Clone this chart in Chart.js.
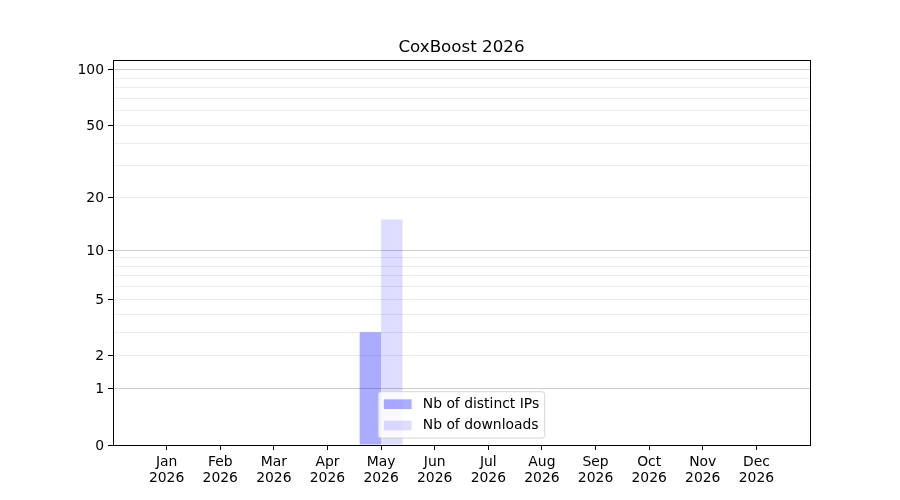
<!DOCTYPE html>
<html>
<head>
<meta charset="utf-8">
<script src="https://cdn.jsdelivr.net/npm/chart.js@4/dist/chart.umd.min.js"></script>
<style>
  html, body { margin: 0; padding: 0; background: #fff; }
  #wrap { width: 900px; height: 500px; position: relative; }
</style>
</head>
<body>
<div id="wrap"><canvas id="c" width="900" height="500"></canvas></div>
<script>
// ---- data ----
const chartTitle = 'CoxBoost 2026';
const months = ['Jan', 'Feb', 'Mar', 'Apr', 'May', 'Jun', 'Jul', 'Aug', 'Sep', 'Oct', 'Nov', 'Dec'];
const year = '2026';
const distinctIPs = [0, 0, 0, 0, 3, 0, 0, 0, 0, 0, 0, 0];
const downloads = [0, 0, 0, 0, 15, 0, 0, 0, 0, 0, 0, 0];
const seriesNames = ['Nb of distinct IPs', 'Nb of downloads'];
const yTickLabels = [0, 1, 2, 5, 10, 20, 50, 100];
const yMajorGrid = [1, 10, 100];
const yMinorGrid = [2, 3, 4, 5, 6, 7, 8, 9, 20, 30, 40, 50, 60, 70, 80, 90];
const yMax = 113;

// ---- custom symlog-like scale: log10(1 + y) ----
class Log1pScale extends Chart.Scale {
  determineDataLimits() {
    const { min, max } = this.getMinMax(true);
    this.min = Number.isFinite(this.options.min) ? this.options.min : Math.min(0, min);
    this.max = Number.isFinite(this.options.max) ? this.options.max : max;
  }
  buildTicks() {
    const vals = Array.from(new Set([0, ...yTickLabels, ...yMajorGrid, ...yMinorGrid])).sort((a, b) => a - b);
    return vals.filter(v => v >= this.min && v <= this.max).map(v => ({ value: v }));
  }
  configure() {
    super.configure();
    this._s = Math.log10(1 + this.min);
    this._e = Math.log10(1 + this.max);
  }
  getLabelForValue(v) { return String(v); }
  getPixelForValue(v) {
    if (v === null || v === undefined || isNaN(v)) return NaN;
    return this.getPixelForDecimal((Math.log10(1 + v) - this._s) / (this._e - this._s));
  }
  getValueForPixel(p) {
    const d = this.getDecimalForPixel(p);
    return Math.pow(10, this._s + d * (this._e - this._s)) - 1;
  }
}
Log1pScale.id = 'log1p';
Log1pScale.defaults = {};
Chart.register(Log1pScale);

const FONT = 'DejaVu Sans';
const colIP = 'rgba(0,0,255,0.33)';
const colDL = 'rgba(0,0,255,0.135)';

const xLabels = ['', ...months.map(m => [m, year]), ''];
const pad = arr => [null, ...arr, null];

// frame box + title plugin
const framePlugin = {
  id: 'frame',
  afterDatasetsDraw(chart) {
    const { ctx, chartArea: a } = chart;
    ctx.save();
    ctx.strokeStyle = '#000';
    ctx.lineWidth = 1;
    ctx.strokeRect(Math.round(a.left) + 0.5, Math.round(a.top) + 0.5, Math.round(a.right - a.left), Math.round(a.bottom - a.top));
    ctx.fillStyle = '#000';
    ctx.font = '16.7px "' + FONT + '"';
    ctx.textAlign = 'center';
    ctx.textBaseline = 'alphabetic';
    ctx.fillText(chartTitle, (a.left + a.right) / 2, a.top - 8.3);
    ctx.restore();
  }
};

// legend plugin (inside plot, lower center)
const legendPlugin = {
  id: 'innerLegend',
  afterDatasetsDraw(chart) {
    const { ctx, chartArea: a } = chart;
    const fs = 13.9;
    const padIn = 0.4 * fs, handleLen = 2.0 * fs, handleH = 0.7 * fs, textPad = 0.8 * fs;
    const rowH = fs, rowGap = 0.5 * fs * 1.07;
    ctx.save();
    ctx.font = fs + 'px "' + FONT + '"';
    const ds = chart.data.datasets;
    let tw = 0;
    ds.forEach(d => { tw = Math.max(tw, ctx.measureText(d.label).width); });
    const w = padIn * 2 + handleLen + textPad + tw;
    const h = padIn * 2 + ds.length * rowH + (ds.length - 1) * rowGap;
    const cx = (a.left + a.right) / 2;
    const x = cx - w / 2;
    const y = a.bottom - 0.5 * fs - h;
    const r = 0.2 * fs;
    ctx.beginPath();
    ctx.moveTo(x + r, y);
    ctx.lineTo(x + w - r, y);
    ctx.quadraticCurveTo(x + w, y, x + w, y + r);
    ctx.lineTo(x + w, y + h - r);
    ctx.quadraticCurveTo(x + w, y + h, x + w - r, y + h);
    ctx.lineTo(x + r, y + h);
    ctx.quadraticCurveTo(x, y + h, x, y + h - r);
    ctx.lineTo(x, y + r);
    ctx.quadraticCurveTo(x, y, x + r, y);
    ctx.closePath();
    ctx.fillStyle = 'rgba(255,255,255,0.8)';
    ctx.fill();
    ctx.strokeStyle = 'rgba(204,204,204,0.8)';
    ctx.lineWidth = 1;
    ctx.stroke();
    ds.forEach((d, i) => {
      const rowC = y + padIn + rowH / 2 + i * (rowH + rowGap);
      ctx.fillStyle = d.backgroundColor;
      ctx.fillRect(x + padIn, rowC - handleH / 2, handleLen, handleH);
      ctx.fillStyle = '#000';
      ctx.textBaseline = 'middle';
      ctx.textAlign = 'left';
      ctx.fillText(d.label, x + padIn + handleLen + textPad, rowC);
    });
    ctx.restore();
  }
};

const isLabeled = v => yTickLabels.includes(v);

new Chart(document.getElementById('c'), {
  type: 'bar',
  data: {
    labels: xLabels,
    datasets: [
      { label: seriesNames[0], data: pad(distinctIPs), backgroundColor: colIP, borderWidth: 0 },
      { label: seriesNames[1], data: pad(downloads), backgroundColor: colDL, borderWidth: 0 }
    ]
  },
  options: {
    responsive: false,
    animation: false,
    devicePixelRatio: 1,
    layout: { padding: { left: 0, right: 90, top: 60, bottom: 0 } },
    datasets: { bar: { categoryPercentage: 0.8, barPercentage: 1.0, grouped: true } },
    plugins: {
      legend: { display: false },
      tooltip: { enabled: false },
      title: { display: false }
    },
    scales: {
      x: {
        type: 'category',
        offset: false,
        border: { display: true, color: '#000', width: 1 },
        grid: {
          offset: false,
          drawOnChartArea: false,
          drawTicks: true,
          tickLength: 5,
          tickWidth: 1,
          tickColor: ctx => (ctx.index === 0 || ctx.index === xLabels.length - 1) ? 'rgba(0,0,0,0)' : '#000'
        },
        ticks: {
          color: '#000',
          font: { family: FONT, size: 13.9, lineHeight: 1.15 },
          padding: 4,
          maxRotation: 0,
          autoSkip: false
        },
        afterFit: s => { s.height = 55; }
      },
      y: {
        type: 'log1p',
        min: 0,
        max: yMax,
        border: { display: true, color: '#000', width: 1 },
        grid: {
          drawTicks: true,
          tickLength: 5,
          tickWidth: 1,
          color: ctx => {
            const v = ctx.tick ? ctx.tick.value : null;
            if (v === 0) return 'rgba(0,0,0,0)';
            if (yMajorGrid.includes(v)) return '#cccccc';
            return '#ececec';
          },
          tickColor: ctx => (ctx.tick && isLabeled(ctx.tick.value)) ? '#000' : 'rgba(0,0,0,0)'
        },
        ticks: {
          color: '#000',
          font: { family: FONT, size: 13.9 },
          padding: 4,
          labelOffset: 1,
          autoSkip: false,
          callback: v => isLabeled(v) ? String(v) : ''
        },
        afterFit: s => { s.width = 113; }
      }
    }
  },
  plugins: [framePlugin, legendPlugin]
});
</script>
</body>
</html>
